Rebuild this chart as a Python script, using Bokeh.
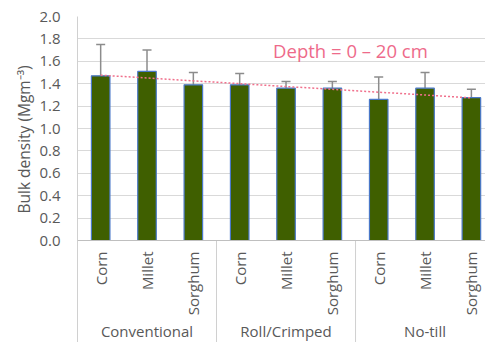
import numpy as np
from bokeh.plotting import figure
from bokeh.models import (Range1d, FixedTicker, ColumnDataSource, Whisker, TeeHead,
                          Title, PrintfTickFormatter, Span)
from bokeh.core.properties import value
from bokeh.embed import file_html
from bokeh.resources import INLINE

# Data: soil bulk density (0-20 cm) by tillage system and cover crop
tillage = ["Conventional", "Roll/Crimped", "No-till"]
crops = ["Corn", "Millet", "Sorghum"]
bulk_density = [1.47, 1.51, 1.39, 1.39, 1.36, 1.36, 1.26, 1.36, 1.275]
error = [0.28, 0.19, 0.11, 0.10, 0.06, 0.06, 0.20, 0.14, 0.075]
y_ticks = [0.0, 0.2, 0.4, 0.6, 0.8, 1.0, 1.2, 1.4, 1.6, 1.8, 2.0]

FONT = "Open Sans"
TXT = "#595959"

crop_labels = [c for _ in tillage for c in crops]
n = len(crop_labels)
xpos = np.arange(n) + 0.5
group_centers = [i * len(crops) + len(crops) / 2 for i in range(len(tillage))]
separators = [i * len(crops) for i in range(1, len(tillage))]

# plot frame spans the category label band too; y=0 sits 102 px above the bottom
y_bottom = -2.0 * 102 / 224
x_end = 408 / 46.34

src = ColumnDataSource(dict(
    x=xpos,
    bd=bulk_density,
    upper=[b + e for b, e in zip(bulk_density, error)],
))

p = figure(width=485, height=342, x_range=Range1d(0, x_end), y_range=Range1d(y_bottom, 2.0),
           output_backend="svg", toolbar_location=None, x_axis_location=None,
           min_border_left=77, min_border_right=0, min_border_top=16, min_border_bottom=0,
           outline_line_color=None, background_fill_color="white", border_fill_color="white")

# value axis
yax = p.yaxis[0]
yax.ticker = FixedTicker(ticks=y_ticks)
yax.formatter = PrintfTickFormatter(format="%.1f")
yax.axis_line_color = "#d0d0d0"
yax.major_tick_line_color = None
yax.minor_tick_line_color = None
yax.major_tick_out = 0
yax.major_tick_in = 0
yax.major_label_standoff = 17
yax.major_label_text_font = FONT
yax.major_label_text_font_size = "15px"
yax.major_label_text_color = TXT

# value axis title, lifted so it is centred on the 0-2 band
p.add_layout(Title(text="Bulk density (Mgm\u207b\u00b3)", align="left", offset=129,
                   text_font=FONT, text_font_size="15.5px", text_font_style="normal",
                   text_color=TXT, standoff=4), "left")

p.xgrid.visible = False
p.ygrid.ticker = FixedTicker(ticks=y_ticks)
p.ygrid.grid_line_color = "#d9d9d9"
p.ygrid.grid_line_width = 1

# category axis line and group separators
p.add_layout(Span(location=0, dimension="width", line_color="#bfbfbf", line_width=1))
p.segment(x0=separators, y0=0, x1=separators, y1=y_bottom, line_color="#d0d0d0", line_width=1)

# bars
p.vbar(x="x", top="bd", bottom=0, width=0.4, source=src,
       fill_color="#3f5f00", line_color="#4a78c8", line_width=1.2)

# upper error bars
p.add_layout(Whisker(base="x", lower="bd", upper="upper", source=src,
                     line_color="#8c8c8c", line_width=1.5, lower_head=None,
                     upper_head=TeeHead(size=9, line_color="#8c8c8c", line_width=1.5)))

# linear trend line across all treatments
slope, intercept = np.polyfit(np.arange(n), bulk_density, 1)
trend_x = [xpos[0], xpos[-1]]
trend_y = [intercept, intercept + slope * (n - 1)]
p.line(trend_x, trend_y, line_color="#f0708c", line_width=1.5, line_dash="2 2")

p.text(x=[5.89], y=[1.70], text=["Depth = 0 \u2013 20 cm"], text_font=value(FONT),
       text_font_size="18.5px", text_color="#ee6a8a", text_align="center",
       text_baseline="middle")

# crop labels (vertical) and tillage group labels
p.text(x=xpos, y=0, text=crop_labels, angle=np.pi / 2, text_align="right",
       text_baseline="middle", y_offset=11, text_font=value(FONT),
       text_font_size="15px", text_color=TXT)
p.text(x=group_centers, y=0, text=tillage, text_align="center", text_baseline="middle",
       y_offset=90, text_font=value(FONT), text_font_size="15px", text_color=TXT)

open("out.html", "w").write(file_html(p, INLINE))
